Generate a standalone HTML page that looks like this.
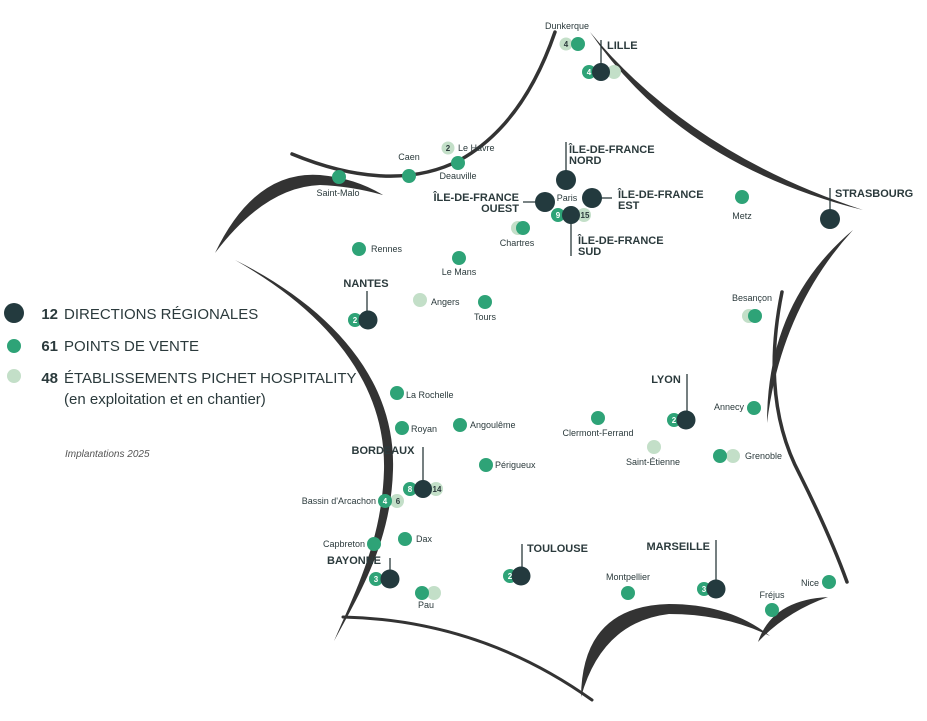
<!DOCTYPE html>
<html><head><meta charset="utf-8"><style>
html,body{margin:0;padding:0;background:#fff;}
svg{display:block;}
text{font-family:"Liberation Sans",sans-serif;fill:#2b3a3c;}
.s{font-size:9px;}
.b{font-size:11px;font-weight:bold;}
.n{font-size:8px;font-weight:bold;}
</style></head><body>
<svg width="927" height="721" viewBox="0 0 927 721" xmlns="http://www.w3.org/2000/svg">
<g fill="#333" stroke="none">
<path d="M215,253 Q255,170 320,175 Q355,178 383,195 Q350,186 320,185 Q265,187 215,253 Z"/>
<path d="M590,32 Q690,153 863,210 Q681,165 590,32 Z"/>
<path d="M853,230 Q767,302 767,423 Q781,309 853,230 Z"/>
<path d="M581,697 Q582,606 669,604 Q730,604 770,636 Q725,614 669,614 Q602,622 581,697 Z"/>
<path d="M758,642 Q772,600 828,597 Q786,612 758,642 Z"/>
<path d="M235,260 C332,308 396,380 393,470 C391,540 362,590 334,641 C356,590 382,540 384,470 C386,385 330,314 235,260 Z"/>
</g>
<g fill="none" stroke="#333" stroke-linecap="round">
<path d="M292,154 C350,178 410,186 460,160 C505,135 535,90 555,32" stroke-width="3.5"/>
<path d="M782,292 Q760,400 800,475 Q830,535 847,582" stroke-width="3.5"/>
<path d="M343,617 Q480,620 592,700" stroke-width="3"/>
</g>
<g stroke="#2b3a3c" stroke-width="1.3">
<line x1="601" y1="40" x2="601" y2="66"/>
<line x1="566" y1="142" x2="566" y2="175"/>
<line x1="523" y1="202" x2="540" y2="202"/>
<line x1="597" y1="198" x2="612" y2="198"/>
<line x1="571" y1="220" x2="571" y2="256"/>
<line x1="830" y1="188" x2="830" y2="214"/>
<line x1="367" y1="291" x2="367" y2="314"/>
<line x1="687" y1="374" x2="687" y2="414"/>
<line x1="423" y1="447" x2="423" y2="484"/>
<line x1="390" y1="558" x2="390" y2="574"/>
<line x1="522" y1="544" x2="522" y2="570"/>
<line x1="716" y1="540" x2="716" y2="584"/>
</g>
<g>
<circle cx="566" cy="44" r="6.5" fill="#c3dfc8"/><circle cx="578" cy="44" r="7" fill="#2ea377"/>
<circle cx="614" cy="72" r="7" fill="#c3dfc8"/><circle cx="589" cy="72" r="7" fill="#2ea377"/><circle cx="601" cy="72" r="9" fill="#233a3e"/>
<circle cx="448" cy="148" r="6.5" fill="#c3dfc8"/>
<circle cx="458" cy="163" r="7" fill="#2ea377"/>
<circle cx="409" cy="176" r="7" fill="#2ea377"/>
<circle cx="339" cy="177" r="7" fill="#2ea377"/>
<circle cx="566" cy="180" r="10" fill="#233a3e"/>
<circle cx="545" cy="202" r="10" fill="#233a3e"/>
<circle cx="592" cy="198" r="10" fill="#233a3e"/>
<circle cx="584" cy="215" r="7" fill="#c3dfc8"/><circle cx="558" cy="215" r="7" fill="#2ea377"/><circle cx="571" cy="215" r="9" fill="#233a3e"/>
<circle cx="518" cy="228" r="7" fill="#c3dfc8"/><circle cx="523" cy="228" r="7" fill="#2ea377"/>
<circle cx="742" cy="197" r="7" fill="#2ea377"/>
<circle cx="830" cy="219" r="10" fill="#233a3e"/>
<circle cx="359" cy="249" r="7" fill="#2ea377"/>
<circle cx="459" cy="258" r="7" fill="#2ea377"/>
<circle cx="355" cy="320" r="7" fill="#2ea377"/><circle cx="368" cy="320" r="9.5" fill="#233a3e"/>
<circle cx="420" cy="300" r="7" fill="#c3dfc8"/>
<circle cx="485" cy="302" r="7" fill="#2ea377"/>
<circle cx="749" cy="316" r="7" fill="#c3dfc8"/><circle cx="755" cy="316" r="7" fill="#2ea377"/>
<circle cx="674" cy="420" r="7" fill="#2ea377"/><circle cx="686" cy="420" r="9.5" fill="#233a3e"/>
<circle cx="754" cy="408" r="7" fill="#2ea377"/>
<circle cx="598" cy="418" r="7" fill="#2ea377"/>
<circle cx="654" cy="447" r="7" fill="#c3dfc8"/>
<circle cx="733" cy="456" r="7" fill="#c3dfc8"/><circle cx="720" cy="456" r="7" fill="#2ea377"/>
<circle cx="397" cy="393" r="7" fill="#2ea377"/>
<circle cx="402" cy="428" r="7" fill="#2ea377"/>
<circle cx="460" cy="425" r="7" fill="#2ea377"/>
<circle cx="436" cy="489" r="7" fill="#c3dfc8"/><circle cx="410" cy="489" r="7" fill="#2ea377"/><circle cx="423" cy="489" r="9" fill="#233a3e"/>
<circle cx="486" cy="465" r="7" fill="#2ea377"/>
<circle cx="397" cy="501" r="7" fill="#c3dfc8"/><circle cx="385" cy="501" r="7" fill="#2ea377"/>
<circle cx="374" cy="544" r="7" fill="#2ea377"/>
<circle cx="405" cy="539" r="7" fill="#2ea377"/>
<circle cx="376" cy="579" r="7" fill="#2ea377"/><circle cx="390" cy="579" r="9.5" fill="#233a3e"/>
<circle cx="434" cy="593" r="7" fill="#c3dfc8"/><circle cx="422" cy="593" r="7" fill="#2ea377"/>
<circle cx="510" cy="576" r="7" fill="#2ea377"/><circle cx="521" cy="576" r="9.5" fill="#233a3e"/>
<circle cx="704" cy="589" r="7" fill="#2ea377"/><circle cx="716" cy="589" r="9.5" fill="#233a3e"/>
<circle cx="628" cy="593" r="7" fill="#2ea377"/>
<circle cx="772" cy="610" r="7" fill="#2ea377"/>
<circle cx="829" cy="582" r="7" fill="#2ea377"/>
</g>
<g class="n" text-anchor="middle">
<text x="566" y="47" class="n">4</text>
<text x="589" y="75" class="n" style="fill:#fff">4</text>
<text x="448" y="151" class="n">2</text>
<text x="558" y="218" class="n" style="fill:#fff">9</text>
<text x="585" y="218" class="n">15</text>
<text x="355" y="323" class="n" style="fill:#fff">2</text>
<text x="674" y="423" class="n" style="fill:#fff">2</text>
<text x="410" y="492" class="n" style="fill:#fff">8</text>
<text x="437" y="492" class="n">14</text>
<text x="385" y="504" class="n" style="fill:#fff">4</text>
<text x="398" y="504" class="n">6</text>
<text x="376" y="582" class="n" style="fill:#fff">3</text>
<text x="510" y="579" class="n" style="fill:#fff">2</text>
<text x="704" y="592" class="n" style="fill:#fff">3</text>
</g>
<g class="s">
<text x="567" y="29" text-anchor="middle">Dunkerque</text>
<text x="458" y="151">Le Havre</text>
<text x="458" y="179" text-anchor="middle">Deauville</text>
<text x="409" y="160" text-anchor="middle">Caen</text>
<text x="338" y="196" text-anchor="middle">Saint-Malo</text>
<text x="567" y="201" text-anchor="middle">Paris</text>
<text x="517" y="246" text-anchor="middle">Chartres</text>
<text x="742" y="219" text-anchor="middle">Metz</text>
<text x="371" y="252">Rennes</text>
<text x="459" y="275" text-anchor="middle">Le Mans</text>
<text x="431" y="305">Angers</text>
<text x="485" y="320" text-anchor="middle">Tours</text>
<text x="752" y="301" text-anchor="middle">Besançon</text>
<text x="744" y="410" text-anchor="end">Annecy</text>
<text x="598" y="436" text-anchor="middle">Clermont-Ferrand</text>
<text x="653" y="465" text-anchor="middle">Saint-Étienne</text>
<text x="745" y="459">Grenoble</text>
<text x="406" y="398">La Rochelle</text>
<text x="411" y="432">Royan</text>
<text x="470" y="428">Angoulême</text>
<text x="495" y="468">Périgueux</text>
<text x="376" y="504" text-anchor="end">Bassin d'Arcachon</text>
<text x="365" y="547" text-anchor="end">Capbreton</text>
<text x="416" y="542">Dax</text>
<text x="426" y="608" text-anchor="middle">Pau</text>
<text x="628" y="580" text-anchor="middle">Montpellier</text>
<text x="772" y="598" text-anchor="middle">Fréjus</text>
<text x="819" y="586" text-anchor="end">Nice</text>
</g>
<g class="b">
<text x="607" y="49">LILLE</text>
<text x="569" y="153">ÎLE-DE-FRANCE</text><text x="569" y="164">NORD</text>
<text x="519" y="201" text-anchor="end">ÎLE-DE-FRANCE</text><text x="519" y="212" text-anchor="end">OUEST</text>
<text x="618" y="198">ÎLE-DE-FRANCE</text><text x="618" y="209">EST</text>
<text x="578" y="244">ÎLE-DE-FRANCE</text><text x="578" y="255">SUD</text>
<text x="835" y="197">STRASBOURG</text>
<text x="366" y="287" text-anchor="middle">NANTES</text>
<text x="666" y="383" text-anchor="middle">LYON</text>
<text x="383" y="454" text-anchor="middle">BORDEAUX</text>
<text x="354" y="564" text-anchor="middle">BAYONNE</text>
<text x="527" y="552">TOULOUSE</text>
<text x="710" y="550" text-anchor="end">MARSEILLE</text>
</g>
<circle cx="14" cy="313" r="10" fill="#233a3e"/>
<circle cx="14" cy="346" r="7" fill="#2ea377"/>
<circle cx="14" cy="376" r="7" fill="#c3dfc8"/>
<g style="font-size:15px">
<text x="58" y="319" text-anchor="end" font-weight="bold">12</text><text x="64" y="319">DIRECTIONS RÉGIONALES</text>
<text x="58" y="351" text-anchor="end" font-weight="bold">61</text><text x="64" y="351">POINTS DE VENTE</text>
<text x="58" y="383" text-anchor="end" font-weight="bold">48</text><text x="64" y="383">ÉTABLISSEMENTS PICHET HOSPITALITY</text>
<text x="64" y="404">(en exploitation et en chantier)</text>
</g>
<text x="65" y="457" style="font-size:10px;font-style:italic;fill:#555">Implantations 2025</text>
</svg>
</body></html>
